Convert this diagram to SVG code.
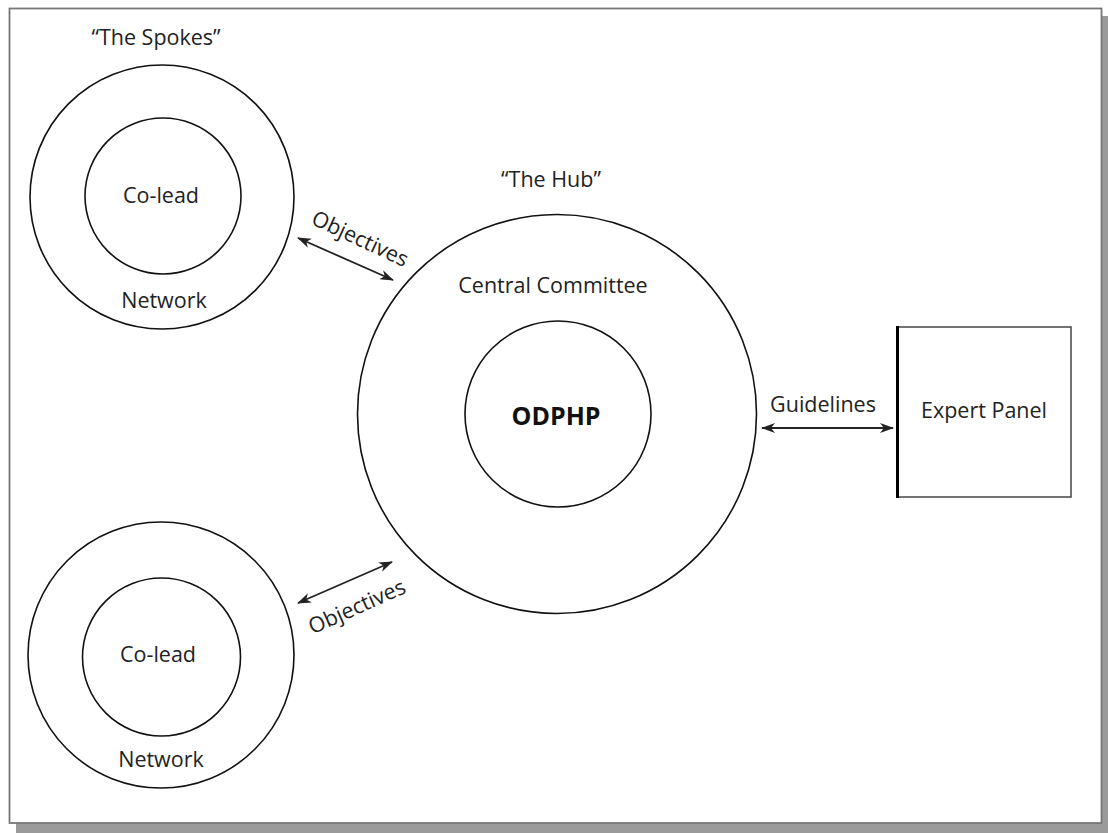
<svg xmlns="http://www.w3.org/2000/svg" width="1108" height="833" viewBox="0 0 1108 833">
  <style>
    .ring { fill: none; stroke: #111; stroke-width: 1.6; }
    .lbl { font-family: "Open Sans", "Liberation Sans", sans-serif; font-size: 21.5px; fill: #222; text-anchor: middle; }
    .bold { font-weight: bold; font-size: 25px; fill: #111; }
    .conn { stroke: #222; stroke-width: 1.8; fill: none; marker-start: url(#ah); marker-end: url(#ah); }
  </style>
  <defs>
    <marker id="ah" viewBox="0 0 14 10" refX="13" refY="5" markerWidth="14" markerHeight="10" markerUnits="userSpaceOnUse" orient="auto-start-reverse">
      <path d="M0,0 L14,5 L0,10 L4,5 Z" fill="#222"/>
    </marker>
  </defs>

  <!-- frame with shadow -->
  <g id="frame">
    <rect x="16" y="16" width="1092" height="817" fill="#9a9a9a"/>
    <rect x="9.5" y="8.5" width="1092" height="814.5" fill="#ffffff" stroke="#777" stroke-width="1.8"/>
  </g>

  <g id="spokes-title">
    <text class="lbl" x="156" y="45">“The Spokes”</text>
  </g>

  <g id="spoke-top">
    <circle class="ring" cx="162" cy="197" r="132"/>
    <circle class="ring" cx="163" cy="196" r="78"/>
    <text class="lbl" x="161" y="203">Co-lead</text>
    <text class="lbl" x="164" y="308">Network</text>
  </g>

  <g id="spoke-bottom">
    <circle class="ring" cx="161" cy="655" r="133"/>
    <circle class="ring" cx="161.5" cy="657" r="79"/>
    <text class="lbl" x="158" y="662">Co-lead</text>
    <text class="lbl" x="161" y="767">Network</text>
  </g>

  <g id="hub">
    <text class="lbl" x="551" y="187">“The Hub”</text>
    <circle class="ring" cx="557" cy="414" r="199.5"/>
    <circle class="ring" cx="558" cy="414" r="93"/>
    <text class="lbl" x="553" y="293">Central Committee</text>
    <text class="lbl bold" x="556" y="425">ODPHP</text>
  </g>

  <g id="expert-panel">
    <rect x="897" y="327" width="174" height="170" fill="#fff" stroke="#444" stroke-width="1.5"/>
    <line x1="897.5" y1="326" x2="897.5" y2="498" stroke="#000" stroke-width="3"/>
    <text class="lbl" x="984" y="418">Expert Panel</text>
  </g>

  <g id="connectors">
    <line class="conn" x1="298" y1="238" x2="393" y2="280"/>
    <text class="lbl" x="360" y="246" transform="rotate(25 360 239)">Objectives</text>
    <line class="conn" x1="298" y1="603" x2="392" y2="562"/>
    <text class="lbl" x="357" y="614" transform="rotate(-24 357 607)">Objectives</text>
    <line class="conn" x1="762" y1="428" x2="893" y2="428"/>
    <text class="lbl" x="823" y="412">Guidelines</text>
  </g>
</svg>
